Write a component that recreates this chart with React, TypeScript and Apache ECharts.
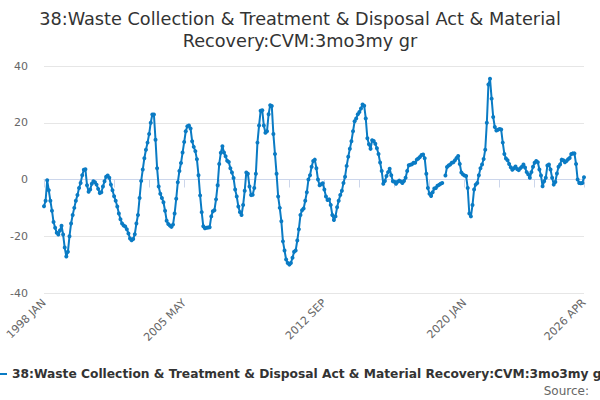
import React, { useEffect, useRef } from "react";
import * as echarts from "echarts";

const TITLE = "38:Waste Collection & Treatment & Disposal Act & Material\nRecovery:CVM:3mo3my gr";
const SERIES_NAME = "38:Waste Collection & Treatment & Disposal Act & Material Recovery:CVM:3mo3my gr";
const MONTHS = ["JAN", "FEB", "MAR", "APR", "MAY", "JUN", "JUL", "AUG", "SEP", "OCT", "NOV", "DEC"];
const START_YEAR = 1998;

const values: (number | null)[] = [
  -9.4, -7.5, -0.3, -3.8, -7.5, -11, -15, -17, -18.8, -19.4,
  -18, -16.3, -19.4, -24, -27.1, -25.5, -20, -15.5, -12.5, -10,
  -7.5, -5.5, -3, -1.2, 1.5, 3.4, 3.6, -2, -4.3, -3.5,
  -1.5, -0.6, -1, -1.8, -3.3, -4.8, -4.5, -2.5, -0.6, 1,
  1.4, 0.6, -1.8, -3.8, -5.9, -7.5, -9.5, -12, -14, -15.5,
  -16.2, -16.6, -17.5, -19, -20.8, -21.4, -21, -19.3, -15.5, -12.5,
  -6.5, -0.5, 3.5, 7.5, 10.5, 13, 16, 20, 22.9, 22.9,
  14, 4, -2.5, -5, -6.5, -8, -11, -14.5, -15.7, -16.2,
  -16.7, -15.9, -12, -6.8, -1, 3, 5.8, 9.5, 13.2, 17,
  18.8, 19, 18, 13.5, 11.5, 10, 7.1, 1.5, -5.6, -11.5,
  -16.5, -17.2, -17, -16.9, -16.8, -13, -11.2, -10.8, -7, -2,
  5.5, 9.4, 11.7, 9.5, 8.2, 6.6, 6.2, 4, 2.5, 0.5,
  -3.5, -6, -9.5, -11.5, -12.5, -9, -4, 2.5, 2, -2.5,
  -5.5, -5.4, -3, 2, 13, 19, 24.2, 24.4, 19, 16.5,
  17, 23, 26.2, 25.9, 16, 9, 2, -6, -10, -14.7,
  -21.8, -25, -28.2, -29.4, -30, -29.4, -27.6, -25.5, -25, -21.5,
  -17.5, -12.5, -10.8, -10.2, -7.5, -4.5, 0, 1.5, 4.5, 6.5,
  7, 4, 0, -2, -1.7, -1.3, -3.5, -6, -7.2, -7,
  -9, -12.5, -14.3, -13, -9.8, -7.5, -5.5, -4, -1.2, 1,
  4.8, 8, 10.8, 13.5, 17, 20.5, 21.5, 23, 23.8, 25,
  26.4, 26, 21.5, 14.5, 12.4, 10.8, 13.8, 13.6, 12.6, 11,
  9, 6, 3, -1.5, -0.5, 1.2, 2.6, 3.8, 1.5, -0.6,
  -0.8, -1.5, -0.8, -0.4, -0.7, -1.2, -0.5, 0.6, 3, 5,
  5.2, 5.4, 5.9, 5.9, 7, 7.4, 7.9, 8.6, 8.8, 7.5,
  2, -3, -5, -5.8, -4.5, -3.2, -3, -2.2, -1.9, -1.5,
  -1.2, null, 1.4, 4.4, 4.9, 5.3, 5.9, 6.1, 6.8, 7.6,
  8.3, 5.5, 2.5, 1.8, 1.4, 1.2, -3, -12, -13, -9,
  -3.5, -1.8, -1.2, 1.5, 4, 5.3, 7.2, 10.5, 20, 33.5,
  35.5, 28.5, 22, 18.5, 17.3, 17.5, 17.8, 17.6, 13, 9,
  7.4, 6.8, 5.5, 4.3, 3.4, 4, 4.6, 3.7, 3.3, 4,
  4.5, 5.3, 4.2, 2.6, 1.8, 0.6, 2.6, 4.5, 5.9, 6.5,
  6.1, 3.5, 1.4, -2.4, -0.6, 0.6, 4.9, 5.3, 3.5, 0.6,
  -1.8, -0.9, 2.1, 4.5, 5.3, 7, 6.8, 6.1, 6.5, 7.1,
  7.6, 9, 9.2, 9.2, 5.5, 0, -1.2, -1.3, -1.2, 0.8,
];

const categories: string[] = values.map(
  (_, i) => `${START_YEAR + Math.floor(i / 12)} ${MONTHS[i % 12]}`
);

const LABEL_STEP = 88;
const TICK_STEP = 22;
const LAST = categories.length - 1;

export default function App() {
  const ref = useRef<HTMLDivElement>(null);
  useEffect(() => {
    document.body.style.margin = "0";
    if (!ref.current) return;
    const chart = echarts.init(ref.current, undefined, { renderer: "svg" });
    const font = "'DejaVu Sans', sans-serif";
    chart.setOption({
      animation: false,
      textStyle: { fontFamily: font },
      title: [
        {
          text: TITLE,
          left: "center",
          top: 3,
          textStyle: { fontSize: 17.7, fontWeight: "normal", color: "#333", lineHeight: 22, fontFamily: font },
        },
        {
          text: "Source:",
          right: 11,
          bottom: 3,
          padding: 0,
          textStyle: { fontSize: 12, fontWeight: "normal", color: "#666", fontFamily: font },
        },
      ],
      legend: {
        data: [SERIES_NAME],
        left: -19,
        bottom: 20,
        padding: 0,
        itemWidth: 25,
        textStyle: { fontSize: 12.25, fontWeight: "bold", color: "#333", fontFamily: font },
      },
      grid: { left: 44, right: 16, top: 66, bottom: 107 },
      xAxis: {
        type: "category",
        data: categories,
        boundaryGap: false,
        axisLine: { lineStyle: { color: "#ccd6eb" } },
        axisTick: {
          lineStyle: { color: "#ccd6eb" },
          length: 8,
          interval: (i: number) => (i % TICK_STEP === 0 && i <= LAST - 31) || i === LAST,
        },
        axisLabel: {
          rotate: 45,
          color: "#666",
          fontSize: 11,
          fontFamily: font,
          showMaxLabel: true,
          interval: (i: number) => i % LABEL_STEP === 0 || i === LAST,
        },
        splitLine: { show: false },
      },
      yAxis: {
        type: "value",
        min: -40,
        max: 40,
        interval: 20,
        axisLine: { show: false },
        axisTick: { show: false },
        axisLabel: { color: "#666", fontSize: 11, fontFamily: font, margin: 16 },
        splitLine: { lineStyle: { color: "#e6e6e6" } },
      },
      series: [
        {
          name: SERIES_NAME,
          type: "line",
          data: values,
          connectNulls: false,
          symbol: "circle",
          symbolSize: 4,
          showSymbol: true,
          showAllSymbol: true,
          itemStyle: { color: "#0a7bc4" },
          lineStyle: { color: "#0a7bc4", width: 2 },
        },
      ],
    });
    return () => chart.dispose();
  }, []);
  return <div ref={ref} style={{ width: 600, height: 400 }} />;
}
